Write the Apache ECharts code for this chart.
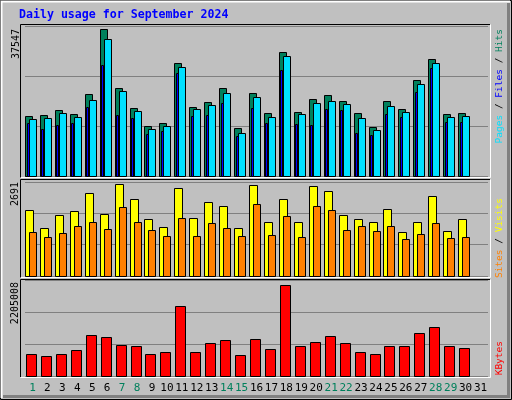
<!DOCTYPE html>
<html>
<head>
<meta charset="utf-8">
<script src="https://cdn.jsdelivr.net/npm/echarts@6/dist/echarts.min.js"></script>
<style>html,body{margin:0;padding:0;background:#c0c0c0}#chart{width:512px;height:400px}</style>
</head>
<body>
<div id="chart"></div>
<script>
// 每日数据 (1..31)
var days = ['1','2','3','4','5','6','7','8','9','10','11','12','13','14','15','16','17','18','19','20','21','22','23','24','25','26','27','28','29','30','31'];
var weekendDays = ['1','7','8','14','15','21','22','28','29'];
var hits = [15270,15530,16810,15790,20900,37547,22440,17320,12710,13480,28840,17580,18860,22440,12200,21160,16040,31650,16300,19620,20650,19110,16040,12460,19110,17060,24490,29860,15790,16040,0];
var files = [14500,14760,16040,15020,19370,34980,21670,16560,11950,12710,27810,17060,18090,21160,10920,20140,15020,30630,15790,18600,19110,18350,14760,11690,17830,16300,23470,28840,15020,15270,0];
var pages = [13480,11950,12970,13480,17580,28330,15530,14760,10670,11440,26280,15270,15530,18600,10160,17320,13480,27050,13230,12970,17060,16810,10920,10410,15790,15020,21420,27560,13740,13740,0];
var visits = [1931,1404,1784,1901,2428,1814,2691,2252,1667,1433,2574,1697,2165,2048,1404,2662,1580,2252,1580,2633,2486,1784,1667,1580,1960,1287,1580,2340,1316,1667,0];
var sites = [1287,1141,1258,1463,1580,1375,2018,1580,1346,1170,1697,1170,1550,1404,1170,2106,1199,1755,1141,2048,1931,1346,1463,1316,1463,1082,1229,1550,1112,1141,0];
var kbytes = [539150,490870,539150,635710,997830,949550,756420,732280,539150,587430,1697920,587430,804700,877120,515010,901260,659850,2205008,732280,828840,973690,804700,587430,539150,732280,732280,1046110,1190960,732280,683990,0];

var mono = '"DejaVu Sans Mono", monospace';

// 把数组转换成 [index, value]
function toData(arr) {
    var out = [];
    for (let i = 0; i < arr.length; i++) {
        if (arr[i] > 0) out.push([i, arr[i]]);
    }
    return out;
}

// 柱子：在每个格子里按偏移量画
function barItem(off, wid, color) {
    return function (params, api) {
        var base = api.coord([api.value(0), 0]);
        var top = api.coord([api.value(0), api.value(1)]);
        var sz = api.size([1, 0])[0];
        var x0 = Math.round(base[0] - sz / 2 + off) + 0.5;
        var y0 = Math.round(top[1]) + 0.5;
        return {
            type: 'rect',
            shape: { x: x0, y: y0, width: wid, height: Math.round(base[1]) - y0 + 0.5 },
            style: { fill: color, stroke: '#000', lineWidth: 1 }
        };
    };
}

function yAxisFor(idx, max) {
    return {
        gridIndex: idx, type: 'value', min: 0, max: max, interval: max / 3,
        axisLabel: { show: false }, axisLine: { show: false }, axisTick: { show: false },
        splitLine: { show: true, lineStyle: { color: '#808080', width: 1 } }
    };
}
function xAxisFor(idx, showLabels) {
    return {
        gridIndex: idx, type: 'category', data: days, boundaryGap: true,
        axisLine: { show: false }, axisTick: { show: false },
        axisLabel: {
            show: showLabels, interval: 0, margin: 7,
            fontFamily: mono, fontSize: 11,
            color: function (v) { return weekendDays.indexOf(v) >= 0 ? '#00805c' : '#000'; }
        }
    };
}

var myChart = echarts.init(document.getElementById('chart'));

var option = {
    backgroundColor: '#c0c0c0',
    animation: false,
    grid: [
        { left: 25, width: 463, top: 26, height: 150 },
        { left: 25, width: 463, top: 182, height: 94 },
        { left: 25, width: 463, top: 280, height: 96 }
    ],
    xAxis: [xAxisFor(0, false), xAxisFor(1, false), xAxisFor(2, true)],
    yAxis: [yAxisFor(0, 38392), yAxisFor(1, 2750), yAxisFor(2, 2316000)],
    series: [
        { type: 'custom', xAxisIndex: 0, yAxisIndex: 0, renderItem: barItem(0, 7, '#00805c'), data: toData(hits) },
        { type: 'custom', xAxisIndex: 0, yAxisIndex: 0, renderItem: barItem(4, 7, '#00e0ff'), data: toData(files) },
        { type: 'custom', xAxisIndex: 0, yAxisIndex: 0, renderItem: barItem(1.5, 2, '#0000ff'), data: toData(pages) },
        { type: 'custom', xAxisIndex: 1, yAxisIndex: 1, renderItem: barItem(0, 8, '#ffff00'), data: toData(visits) },
        { type: 'custom', xAxisIndex: 1, yAxisIndex: 1, renderItem: barItem(4, 7, '#ff8000'), data: toData(sites) },
        { type: 'custom', xAxisIndex: 2, yAxisIndex: 2, renderItem: barItem(1, 10, '#ff0000'), data: toData(kbytes) }
    ],
    graphic: [
        // 外框
        { type: 'rect', shape: { x: 0.5, y: 0.5, width: 511, height: 399 }, style: { fill: null, stroke: '#000', lineWidth: 1 }, silent: true },
        { type: 'polyline', shape: { points: [[1.5, 398], [1.5, 1.5], [510, 1.5]] }, style: { stroke: '#fff', lineWidth: 2, fill: null }, silent: true },
        { type: 'polyline', shape: { points: [[3, 396.5], [508.5, 396.5], [508.5, 3]] }, style: { stroke: '#808080', lineWidth: 3, fill: null }, silent: true },
        // 面板框
        { type: 'polyline', shape: { points: [[20.5, 178], [20.5, 24.5], [490, 24.5]] }, style: { stroke: '#000', fill: null }, silent: true },
        { type: 'polyline', shape: { points: [[20.5, 177.5], [490.5, 177.5], [490.5, 24.5]] }, style: { stroke: '#fff', fill: null }, silent: true },
        { type: 'polyline', shape: { points: [[20.5, 278], [20.5, 179.5], [490, 179.5]] }, style: { stroke: '#000', fill: null }, silent: true },
        { type: 'polyline', shape: { points: [[20.5, 277.5], [490.5, 277.5], [490.5, 179.5]] }, style: { stroke: '#fff', fill: null }, silent: true },
        { type: 'polyline', shape: { points: [[20.5, 377], [20.5, 279.5], [490, 279.5]] }, style: { stroke: '#000', fill: null }, silent: true },
        { type: 'polyline', shape: { points: [[20.5, 377.5], [490.5, 377.5], [490.5, 279.5]] }, style: { stroke: '#fff', fill: null }, silent: true },
        // 标题
        { type: 'text', left: 19, top: 9, style: { text: 'Daily usage for September 2024', fill: '#0000ff', font: 'bold 11.6px ' + mono } },
        // 左侧最大值
        { type: 'text', x: 16, y: 29, rotation: Math.PI / 2, style: { text: '37547', fill: '#000', font: '10px ' + mono, align: 'right', verticalAlign: 'middle' } },
        { type: 'text', x: 15, y: 182, rotation: Math.PI / 2, style: { text: '2691', fill: '#000', font: '10px ' + mono, align: 'right', verticalAlign: 'middle' } },
        { type: 'text', x: 15, y: 282, rotation: Math.PI / 2, style: { text: '2205008', fill: '#000', font: '10px ' + mono, align: 'right', verticalAlign: 'middle' } },
        // 右侧图例
        { type: 'text', x: 500, y: 29, rotation: Math.PI / 2, style: {
            text: '{p|Pages}{s| / }{f|Files}{s| / }{h|Hits}', align: 'right', verticalAlign: 'middle', font: '9.5px ' + mono,
            rich: { p: { fill: '#00e0ff', font: '9.5px ' + mono }, f: { fill: '#0000ff', font: '9.5px ' + mono }, h: { fill: '#00805c', font: '9.5px ' + mono }, s: { fill: '#000', font: '9.5px ' + mono } } } },
        { type: 'text', x: 500, y: 198, rotation: Math.PI / 2, style: {
            text: '{a|Sites}{s| / }{b|Visits}', align: 'right', verticalAlign: 'middle', font: '9.5px ' + mono,
            rich: { a: { fill: '#ff8000', font: '9.5px ' + mono }, b: { fill: '#ffff00', font: '9.5px ' + mono }, s: { fill: '#000', font: '9.5px ' + mono } } } },
        { type: 'text', x: 500, y: 341, rotation: Math.PI / 2, style: { text: 'KBytes', fill: '#ff0000', font: '9.5px ' + mono, align: 'right', verticalAlign: 'middle' } }
    ]
};
myChart.setOption(option);
</script>
</body>
</html>
